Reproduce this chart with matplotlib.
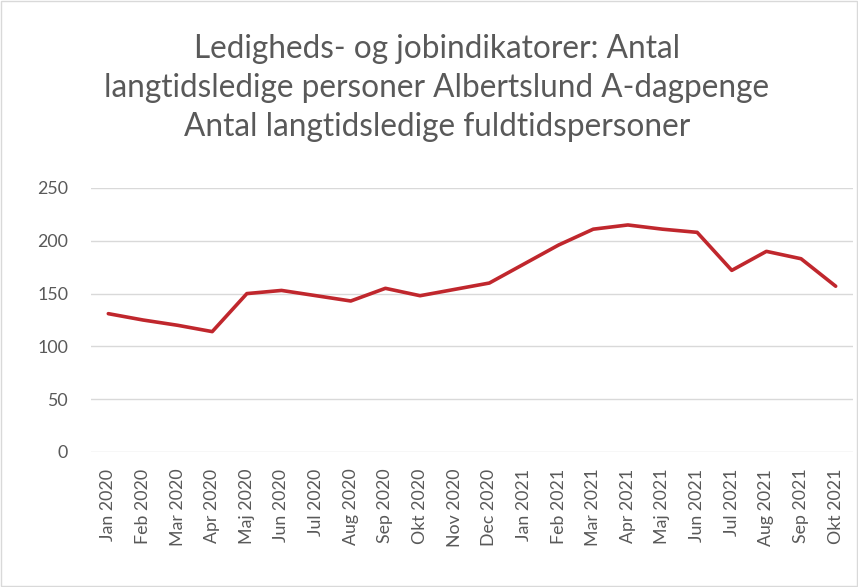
import matplotlib

matplotlib.use("Agg")
import matplotlib.pyplot as plt
from matplotlib.patches import Rectangle

months = ["Jan 2020", "Feb 2020", "Mar 2020", "Apr 2020", "Maj 2020", "Jun 2020",
          "Jul 2020", "Aug 2020", "Sep 2020", "Okt 2020", "Nov 2020", "Dec 2020",
          "Jan 2021", "Feb 2021", "Mar 2021", "Apr 2021", "Maj 2021", "Jun 2021",
          "Jul 2021", "Aug 2021", "Sep 2021", "Okt 2021"]
values = [131, 125, 120, 114, 150, 153, 148, 143, 155, 148, 154, 160,
          178, 196, 211, 215, 211, 208, 172, 190, 183, 157]
yticks = [0, 50, 100, 150, 200, 250]

title = ("Ledigheds- og jobindikatorer: Antal\n"
         "langtidsledige personer Albertslund A-dagpenge\n"
         "Antal langtidsledige fuldtidspersoner")

plt.rcParams["font.family"] = ["Lato", "DejaVu Sans"]

fig = plt.figure(figsize=(8.58, 5.87), dpi=100)
ax = fig.add_axes([91 / 858, 1 - 452 / 587, (853 - 91) / 858, (452 - 188) / 587])

x = list(range(len(months)))
ax.plot(x, values, color="#C0272D", linewidth=2.6, solid_joinstyle="round", solid_capstyle="round")

ax.set_xlim(-0.5, len(months) - 0.5)
ax.set_ylim(0, 250)
ax.set_yticks(yticks)
ax.set_xticks(x)
ax.set_xticklabels(months, rotation=90)
ax.tick_params(axis="both", length=0, colors="#595959", labelsize=12.8)
ax.tick_params(axis="y", pad=16.5)
ax.tick_params(axis="x", pad=12)
for s in ax.spines.values():
    s.set_visible(False)
ax.grid(axis="y", color="#D9D9D9", linewidth=1)
ax.set_axisbelow(True)

fig.text(437 / 858, 1 - 88 / 587, title, ha="center", va="center", fontsize=22.7,
         color="#595959", linespacing=1.38)

fig.patches.append(Rectangle((0.001, 0.001), 0.998, 0.998, transform=fig.transFigure,
                             fill=False, edgecolor="#D9D9D9", linewidth=1))

fig.savefig("out.png", dpi=100)
